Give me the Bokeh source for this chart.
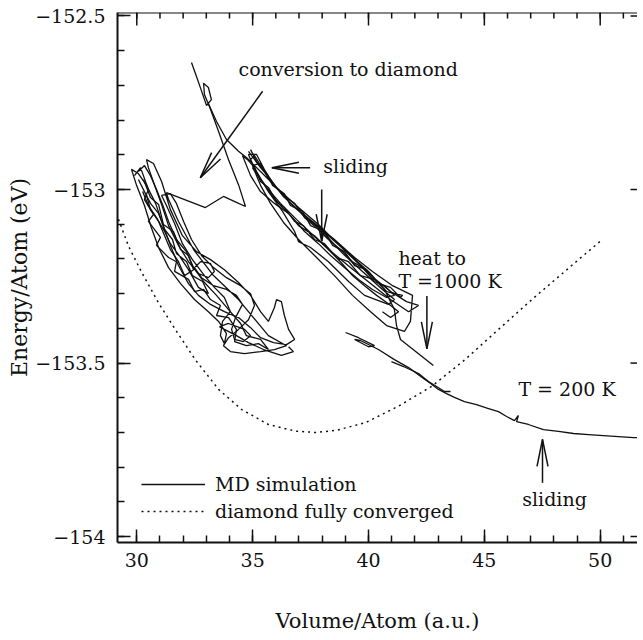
import math
from bokeh.plotting import figure
from bokeh.models import Range1d, FixedTicker, Label, Legend, LegendItem, Span
from bokeh.embed import file_html
from bokeh.resources import INLINE

# ---------------- data ----------------
x_major = [30, 35, 40, 45, 50]
x_major_labels = ["30", "35", "40", "45", "50"]
x_minor = [29, 30, 31, 32, 33, 34, 35, 36, 37, 38, 39, 40, 41, 42, 43, 44, 45, 46, 47, 48, 49, 50, 51]
y_major = [-154.0, -153.5, -153.0, -152.5]
y_major_labels = ["\u2212154", "\u2212153.5", "\u2212153", "\u2212152.5"]
y_minor = [-154.0, -153.9, -153.8, -153.7, -153.6, -153.5, -153.4, -153.3, -153.2, -153.1,
           -153.0, -152.9, -152.8, -152.7, -152.6, -152.5]

# diamond fully converged (dotted)
diamond_x = [29.21, 29.64, 30.22, 30.94, 31.66, 32.52, 33.53, 34.53, 35.68, 36.84, 37.70, 38.60,
             39.86, 41.30, 42.73, 44.17, 45.61, 47.05, 48.49, 50.00]
diamond_y = [-153.086, -153.163, -153.240, -153.327, -153.403, -153.490, -153.576, -153.634,
             -153.677, -153.696, -153.700, -153.694, -153.672, -153.624, -153.567, -153.490,
             -153.403, -153.317, -153.235, -153.149]

# MD simulation trajectory, traced in pieces
md_left_x = [36.55, 36.76, 36.24, 35.47, 34.82, 34.30, 33.78, 33.57, 33.96, 34.65,
             34.91, 34.60, 34.22, 34.09, 34.26, 34.56, 34.30, 33.87, 33.31, 32.79,
             32.49, 32.75, 33.18, 33.35, 33.09, 32.66, 32.23, 31.80, 31.37, 31.07,
             30.76, 30.50, 30.42, 30.72, 31.07, 31.45, 31.97, 32.58, 33.18, 33.78,
             34.39, 34.91, 35.34, 35.68, 35.94, 36.03, 36.24, 36.37, 36.55, 36.81,
             36.46, 35.90, 35.34, 34.91, 34.39, 33.78, 33.18, 32.66, 32.23, 31.80,
             31.45, 31.11, 30.81, 30.42, 30.07, 29.77, 29.99, 30.33, 30.63, 30.94,
             31.37, 31.89, 32.49, 33.09, 33.53, 33.87, 33.78, 33.61, 33.70, 34.04,
             33.78, 33.35, 32.92, 32.40, 31.97, 31.63, 31.28, 31.07, 31.45, 31.71,
             32.02, 32.36, 32.79, 33.31, 33.87, 34.48, 34.91, 35.08, 34.82, 34.39,
             33.96, 33.74, 34.04, 34.65, 35.34, 35.94, 36.46, 35.68, 34.39, 33.31,
             32.45, 31.80, 31.37, 31.28]
md_left_y = [-153.453, -153.467, -153.478, -153.461, -153.441, -153.421, -153.403, -153.395, -153.386, -153.403,
             -153.421, -153.438, -153.432, -153.403, -153.369, -153.331, -153.305, -153.288, -153.277, -153.254,
             -153.225, -153.208, -153.213, -153.236, -153.254, -153.242, -153.208, -153.161, -153.104, -153.043,
             -152.986, -152.937, -152.914, -152.925, -152.977, -153.058, -153.133, -153.179, -153.202, -153.231,
             -153.268, -153.305, -153.352, -153.380, -153.340, -153.317, -153.323, -153.363, -153.403, -153.432,
             -153.447, -153.441, -153.427, -153.398, -153.369, -153.352, -153.331, -153.305, -153.271, -153.219,
             -153.161, -153.098, -153.040, -152.988, -152.954, -152.942, -152.988, -153.046, -153.110, -153.167,
             -153.225, -153.271, -153.317, -153.352, -153.380, -153.415, -153.444, -153.421, -153.380, -153.352,
             -153.311, -153.282, -153.248, -153.202, -153.156, -153.098, -153.046, -153.017, -153.012, -153.040,
             -153.092, -153.144, -153.190, -153.225, -153.254, -153.277, -153.300, -153.334, -153.375, -153.403,
             -153.427, -153.450, -153.467, -153.473, -153.467, -153.461, -153.450, -153.421, -153.317, -153.248,
             -153.173, -153.092, -153.029, -153.009]

md_left2_x = [29.90, 30.16, 30.50, 30.33, 30.72, 30.50, 31.02, 30.85, 31.37, 31.71,
              31.63, 32.23, 32.49, 32.88, 33.18, 33.61, 33.44, 33.96, 34.30, 34.22,
              34.73, 35.25, 35.68, 35.34, 34.73, 34.48, 33.96, 33.44, 32.88, 32.45,
              32.14, 31.71, 31.37, 31.11, 30.85, 30.59, 30.33, 30.07]
md_left2_y = [-152.960, -152.937, -153.000, -153.029, -153.072, -153.092, -153.138, -153.161, -153.196, -153.208,
              -153.236, -153.259, -153.294, -153.288, -153.317, -153.334, -153.363, -153.369, -153.403, -153.438,
              -153.450, -153.444, -153.461, -153.432, -153.421, -153.386, -153.346, -153.305, -153.265, -153.225,
              -153.179, -153.144, -153.092, -153.043, -153.000, -152.960, -152.931, -152.948]

md_left3_x = [30.29, 30.59, 30.94, 31.15, 31.58, 31.89, 32.23, 32.45, 32.06, 31.80,
              31.45, 31.20, 30.94, 30.59, 30.42]
md_left3_y = [-152.971, -153.023, -153.043, -153.101, -153.121, -153.173, -153.190, -153.231, -153.248, -153.208,
              -153.173, -153.133, -153.092, -153.058, -153.017]

md_left4_x = [30.07, 30.33, 30.59, 30.94, 31.20, 31.54, 31.71, 32.15, 32.40, 32.84,
              33.09, 32.66, 32.23, 31.89, 31.45, 31.20, 30.85, 30.50, 30.25]
md_left4_y = [-152.971, -153.006, -153.040, -153.069, -153.115, -153.144, -153.184, -153.208, -153.248, -153.265,
              -153.300, -153.282, -153.231, -153.196, -153.156, -153.121, -153.081, -153.046, -153.006]

md_conv_x = [31.28, 32.96, 33.74, 34.30, 34.69, 34.39, 33.96, 33.53, 33.18, 32.92, 32.88, 33.09,
             33.22, 33.01, 32.71, 32.53, 32.36]
md_conv_y = [-153.009, -153.052, -153.020, -153.037, -153.049, -152.986, -152.914, -152.833,
             -152.769, -152.726, -152.694, -152.706, -152.741, -152.758, -152.700, -152.666, -152.634]

md_band_x = [33.09, 33.44, 33.87, 34.39, 34.73, 35.34, 36.12, 36.98, 37.84, 38.71,
             39.48, 40.22, 40.95, 41.64, 42.16, 41.73, 40.95, 40.09, 39.22, 38.40,
             37.63, 36.89, 36.20, 35.60, 35.08, 34.82, 35.17, 35.68, 36.37, 37.15,
             38.01, 38.88, 39.74, 40.60, 41.12, 40.86, 39.83, 39.14, 38.27, 37.50,
             36.98, 36.81, 36.29, 35.68, 35.17, 34.91, 35.08, 35.77, 36.63, 37.58,
             38.53, 39.40, 40.17, 41.04, 41.90, 41.81, 41.55, 40.78, 40.09, 39.31,
             38.53, 37.76, 36.98, 36.37, 35.77, 35.34, 34.99, 35.34, 35.94, 36.72,
             37.50, 38.36, 39.22, 40.00, 40.69, 41.12, 41.21, 41.38, 42.80]
md_band_y = [-152.752, -152.804, -152.856, -152.890, -152.908, -152.948, -153.000, -153.052, -153.101, -153.159,
             -153.208, -153.254, -153.294, -153.323, -153.334, -153.352, -153.317, -153.271, -153.225, -153.179,
             -153.133, -153.086, -153.040, -152.994, -152.942, -152.899, -152.899, -152.965, -153.023, -153.069,
             -153.121, -153.184, -153.236, -153.288, -153.317, -153.331, -153.305, -153.265, -153.208, -153.167,
             -153.150, -153.121, -153.063, -153.006, -152.948, -152.914, -152.902, -152.977, -153.040, -153.092,
             -153.144, -153.196, -153.236, -153.277, -153.305, -153.380, -153.409, -153.392, -153.352, -153.305,
             -153.248, -153.196, -153.144, -153.098, -153.040, -152.988, -152.931, -152.925, -152.988, -153.046,
             -153.092, -153.138, -153.190, -153.236, -153.288, -153.346, -153.392, -153.432, -153.507]

md_band2_x = [34.91, 35.17, 35.60, 35.86, 36.37, 36.63, 37.15, 37.50, 38.10, 38.45, 38.96, 39.40,
              39.91, 40.43, 40.95, 41.38, 41.47, 40.78, 40.26, 39.65, 39.14, 38.62, 38.10, 37.67,
              37.19, 36.81, 36.37, 36.03, 35.68, 35.34, 35.08, 34.78, 34.56, 34.91, 35.34, 35.94,
              36.55, 36.98, 37.67, 38.27, 38.79, 39.31, 39.83, 40.35, 40.86, 41.30, 40.95, 40.60]
md_band2_y = [-152.885, -152.919, -152.954, -152.988, -153.012, -153.046, -153.063, -153.104, -153.121, -153.161,
              -153.179, -153.219, -153.231, -153.271, -153.282, -153.311, -153.305, -153.294, -153.259, -153.248,
              -153.208, -153.196, -153.156, -153.144, -153.104, -153.092, -153.052, -153.035, -152.994, -152.977,
              -152.937, -152.914, -152.902, -152.960, -153.006, -153.040, -153.069, -153.104, -153.133, -153.173,
              -153.208, -153.248, -153.277, -153.305, -153.329, -153.352, -153.369, -153.352]

md_band3_x = [34.82, 35.34, 35.77, 36.29, 36.81, 37.24, 37.76, 38.27, 38.79, 39.31, 39.74, 40.26, 40.69,
              41.12, 40.78, 40.17, 39.57, 38.96, 38.36, 37.84, 37.24, 36.72, 36.20, 35.77, 35.34, 34.99]
md_band3_y = [-152.890, -152.937, -152.971, -153.017, -153.040, -153.081, -153.110, -153.144, -153.173,
              -153.208, -153.225, -153.265, -153.277, -153.305, -153.311, -153.288, -153.259, -153.225,
              -153.190, -153.156, -153.121, -153.081, -153.046, -153.012, -152.971, -152.937]

md_low_x = [39.01, 39.57, 40.26, 40.00, 39.40, 39.65, 40.43, 41.12, 41.73, 42.33, 42.68, 43.02,
            43.37, 43.71, 44.14, 44.66, 45.18, 45.61, 45.96, 46.30, 46.47, 46.39, 46.90, 47.55,
            48.20, 48.85, 49.50, 50.14, 50.79, 51.44, 51.87]
md_low_y = [-153.412, -153.427, -153.450, -153.453, -153.432, -153.435, -153.461, -153.490, -153.513,
            -153.542, -153.559, -153.576, -153.588, -153.599, -153.611, -153.620, -153.631, -153.640,
            -153.654, -153.666, -153.651, -153.669, -153.677, -153.692, -153.697, -153.703, -153.706,
            -153.709, -153.712, -153.715, -153.715]

md_low2_x = [40.99, 41.51, 42.16, 42.59, 43.28, 43.54]
md_low2_y = [-153.496, -153.510, -153.530, -153.553, -153.582, -153.582]

# annotations: arrows (tail -> tip) and texts
arrow_x0 = [35.43, 37.48, 37.98, 42.52, 47.51]
arrow_y0 = [-152.717, -152.937, -153.000, -153.307, -153.845]
arrow_x1 = [32.74, 35.83, 37.98, 42.52, 47.51]
arrow_y1 = [-152.966, -152.937, -153.149, -153.459, -153.720]

note_text = ["conversion to diamond", "sliding", "heat to", "T =1000 K", "T = 200 K", "sliding"]
note_x = [34.39, 38.05, 41.29, 41.29, 46.47, 48.03]
note_y = [-152.654, -152.933, -153.197, -153.264, -153.576, -153.893]
note_align = ["left", "left", "left", "left", "left", "center"]

# ---------------- figure ----------------
X0, X1 = 29.167, 51.61
Y0, Y1 = -154.017, -152.490
FRAME_W, FRAME_H = 520, 530
FONT = "DejaVu Serif"
INK = "#111111"

p = figure(frame_width=FRAME_W, frame_height=FRAME_H, output_backend="svg", toolbar_location=None,
           x_range=Range1d(X0, X1), y_range=Range1d(Y0, Y1),
           min_border_left=117, min_border_right=0, min_border_top=12, min_border_bottom=95)
p.outline_line_color = None
p.xgrid.visible = False
p.ygrid.visible = False
p.background_fill_color = "white"

xt = FixedTicker(ticks=x_major, minor_ticks=x_minor)
yt = FixedTicker(ticks=y_major, minor_ticks=y_minor)


def style_axis(ax):
    ax.axis_line_color = INK
    ax.axis_line_width = 2
    ax.major_tick_line_color = INK
    ax.minor_tick_line_color = INK
    ax.major_tick_line_width = 1.5
    ax.minor_tick_line_width = 1.5
    ax.major_tick_in = 13
    ax.major_tick_out = 0
    ax.minor_tick_in = 7
    ax.minor_tick_out = 0
    ax.major_label_text_font = FONT
    ax.major_label_text_font_size = "19px"
    ax.major_label_text_color = INK
    ax.axis_label_text_font = FONT
    ax.axis_label_text_font_size = "21px"
    ax.axis_label_text_font_style = "normal"
    ax.axis_label_text_color = INK


xa = p.xaxis[0]
xa.ticker = xt
xa.major_label_overrides = dict(zip(x_major, x_major_labels))
xa.axis_label = "Volume/Atom (a.u.)"
style_axis(xa)
xa.major_label_standoff = 10
xa.axis_label_standoff = 39

ya = p.yaxis[0]
ya.ticker = yt
ya.major_label_overrides = dict(zip(y_major, y_major_labels))
ya.axis_label = "Energy/Atom (eV)"
style_axis(ya)
ya.axis_label_text_font_size = "22px"
ya.major_label_standoff = 12
ya.axis_label_standoff = 0

# mirrored frame: top line + inward ticks on top, short stubs on right
SX = FRAME_W / (X1 - X0)
SY = FRAME_H / (Y1 - Y0)
p.add_layout(Span(location=Y1, dimension="width", line_color=INK, line_width=2))
p.segment(x_major, [Y1] * len(x_major), x_major, [Y1 - 13 / SY] * len(x_major),
          line_color=INK, line_width=1.5)
p.segment(x_minor, [Y1] * len(x_minor), x_minor, [Y1 - 6 / SY] * len(x_minor),
          line_color=INK, line_width=1.5)
p.segment([X1] * len(y_major), y_major, [X1 - 7 / SX] * len(y_major), y_major,
          line_color=INK, line_width=1.5)

# curves
dot = p.line(diamond_x, diamond_y, line_color=INK, line_width=1.5, line_dash="2 4")
md = p.multi_line(
    xs=[md_left_x, md_left2_x, md_left3_x, md_left4_x, md_conv_x, md_band_x, md_band2_x,
        md_band3_x, md_low_x, md_low2_x],
    ys=[md_left_y, md_left2_y, md_left3_y, md_left4_y, md_conv_y, md_band_y, md_band2_y,
        md_band3_y, md_low_y, md_low2_y],
    line_color=INK, line_width=1.3)

# arrows: shafts and narrow open heads (head shape in screen pixels)
HEAD_LEN, HEAD_HALF = 27, 5.5
p.segment(arrow_x0, arrow_y0, arrow_x1, arrow_y1, line_color=INK, line_width=1.5)
hx, hy = [], []
for ax0, ay0, ax1, ay1 in zip(arrow_x0, arrow_y0, arrow_x1, arrow_y1):
    dx, dy = (ax1 - ax0) * SX, (ay1 - ay0) * SY
    n = math.hypot(dx, dy)
    ux, uy = dx / n, dy / n
    pts = []
    for s in (1, -1):
        bx = -HEAD_LEN * ux - s * HEAD_HALF * uy
        by = -HEAD_LEN * uy + s * HEAD_HALF * ux
        pts.append((ax1 + bx / SX, ay1 + by / SY))
    hx.append([pts[0][0], ax1, pts[1][0]])
    hy.append([pts[0][1], ay1, pts[1][1]])
p.multi_line(hx, hy, line_color=INK, line_width=1.5)

for t, x, y, al in zip(note_text, note_x, note_y, note_align):
    p.add_layout(Label(x=x, y=y, text=t, text_font=FONT, text_font_size="19px",
                       text_color=INK, text_baseline="middle", text_align=al))

legend = Legend(items=[LegendItem(label="MD simulation", renderers=[md]),
                       LegendItem(label="diamond fully converged", renderers=[dot])],
                location=(24, 20), padding=0, margin=0, spacing=5,
                glyph_width=64, glyph_height=22, label_height=22, label_standoff=10,
                label_text_font=FONT, label_text_font_size="19px", label_text_color=INK,
                border_line_color=None, background_fill_alpha=0)
p.add_layout(legend)

open("out.html", "w").write(file_html(p, INLINE))
